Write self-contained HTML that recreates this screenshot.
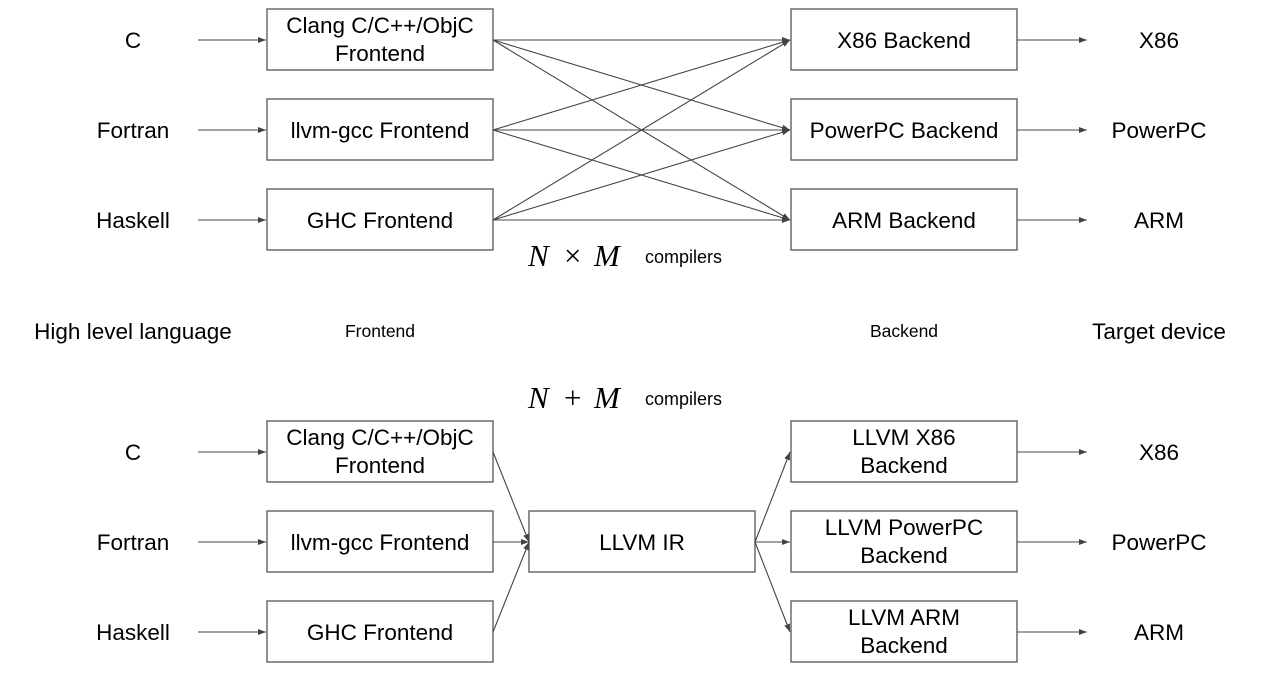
<!DOCTYPE html>
<html><head><meta charset="utf-8"><style>
html,body{margin:0;padding:0;background:#fff}
svg text{font-family:"Liberation Sans",sans-serif;fill:#000}
svg text.m{font-family:"Liberation Serif",serif}
</style></head><body>
<svg width="1278" height="676" viewBox="0 0 1278 676" xmlns="http://www.w3.org/2000/svg">
<defs><marker id="a" markerWidth="8" markerHeight="6" refX="8" refY="3" orient="auto" markerUnits="userSpaceOnUse"><path d="M0,0 L8,3 L0,6z" fill="#444"/></marker></defs>
<g fill="none" stroke="#555" stroke-width="1.3">
<rect x="267" y="9" width="226" height="61"/><rect x="267" y="99" width="226" height="61"/><rect x="267" y="189" width="226" height="61"/>
<rect x="791" y="9" width="226" height="61"/><rect x="791" y="99" width="226" height="61"/><rect x="791" y="189" width="226" height="61"/>
<rect x="267" y="421" width="226" height="61"/><rect x="267" y="511" width="226" height="61"/><rect x="267" y="601" width="226" height="61"/>
<rect x="791" y="421" width="226" height="61"/><rect x="791" y="511" width="226" height="61"/><rect x="791" y="601" width="226" height="61"/>
<rect x="529" y="511" width="226" height="61"/>
</g>
<g stroke="#444" stroke-width="1.1" marker-end="url(#a)">
<line x1="198" y1="40" x2="266" y2="40"/><line x1="198" y1="130" x2="266" y2="130"/><line x1="198" y1="220" x2="266" y2="220"/>
<line x1="1017" y1="40" x2="1087" y2="40"/><line x1="1017" y1="130" x2="1087" y2="130"/><line x1="1017" y1="220" x2="1087" y2="220"/>
<line x1="493" y1="40" x2="790" y2="40"/><line x1="493" y1="40" x2="790" y2="130"/><line x1="493" y1="40" x2="790" y2="220"/>
<line x1="493" y1="130" x2="790" y2="40"/><line x1="493" y1="130" x2="790" y2="130"/><line x1="493" y1="130" x2="790" y2="220"/>
<line x1="493" y1="220" x2="790" y2="40"/><line x1="493" y1="220" x2="790" y2="130"/><line x1="493" y1="220" x2="790" y2="220"/>
<line x1="198" y1="452" x2="266" y2="452"/><line x1="198" y1="542" x2="266" y2="542"/><line x1="198" y1="632" x2="266" y2="632"/>
<line x1="1017" y1="452" x2="1087" y2="452"/><line x1="1017" y1="542" x2="1087" y2="542"/><line x1="1017" y1="632" x2="1087" y2="632"/>
<line x1="493" y1="452" x2="529" y2="542"/><line x1="493" y1="542" x2="529" y2="542"/><line x1="493" y1="632" x2="529" y2="542"/>
<line x1="755" y1="542" x2="790" y2="452"/><line x1="755" y1="542" x2="790" y2="542"/><line x1="755" y1="542" x2="790" y2="632"/>
</g>
<g font-size="22.5" text-anchor="middle">
<text x="133" y="48">C</text><text x="133" y="138">Fortran</text><text x="133" y="228">Haskell</text>
<text x="380" y="33">Clang C/C++/ObjC</text><text x="380" y="61">Frontend</text>
<text x="380" y="138">llvm-gcc Frontend</text><text x="380" y="228">GHC Frontend</text>
<text x="904" y="48">X86 Backend</text><text x="904" y="138">PowerPC Backend</text><text x="904" y="228">ARM Backend</text>
<text x="1159" y="48">X86</text><text x="1159" y="138">PowerPC</text><text x="1159" y="228">ARM</text>
<text x="133" y="339">High level language</text><text x="1159" y="339">Target device</text>
<text x="133" y="460">C</text><text x="133" y="550">Fortran</text><text x="133" y="640">Haskell</text>
<text x="380" y="445">Clang C/C++/ObjC</text><text x="380" y="473">Frontend</text>
<text x="380" y="550">llvm-gcc Frontend</text><text x="380" y="640">GHC Frontend</text>
<text x="642" y="550">LLVM IR</text>
<text x="904" y="445">LLVM X86</text><text x="904" y="473">Backend</text>
<text x="904" y="535">LLVM PowerPC</text><text x="904" y="563">Backend</text>
<text x="904" y="625">LLVM ARM</text><text x="904" y="653">Backend</text>
<text x="1159" y="460">X86</text><text x="1159" y="550">PowerPC</text><text x="1159" y="640">ARM</text>
</g>
<g font-size="17.5" text-anchor="middle">
<text x="380" y="337">Frontend</text><text x="904" y="337">Backend</text>
</g>
<g font-size="18">
<text x="645" y="263">compilers</text><text x="645" y="405">compilers</text>
</g>
<g font-size="31">
<text class="m" x="528" y="266" font-style="italic">N</text><text class="m" x="564" y="266">×</text><text class="m" x="594" y="266" font-style="italic">M</text>
<text class="m" x="528" y="408" font-style="italic">N</text><text class="m" x="564" y="408">+</text><text class="m" x="594" y="408" font-style="italic">M</text>
</g>
</svg>
</body></html>
